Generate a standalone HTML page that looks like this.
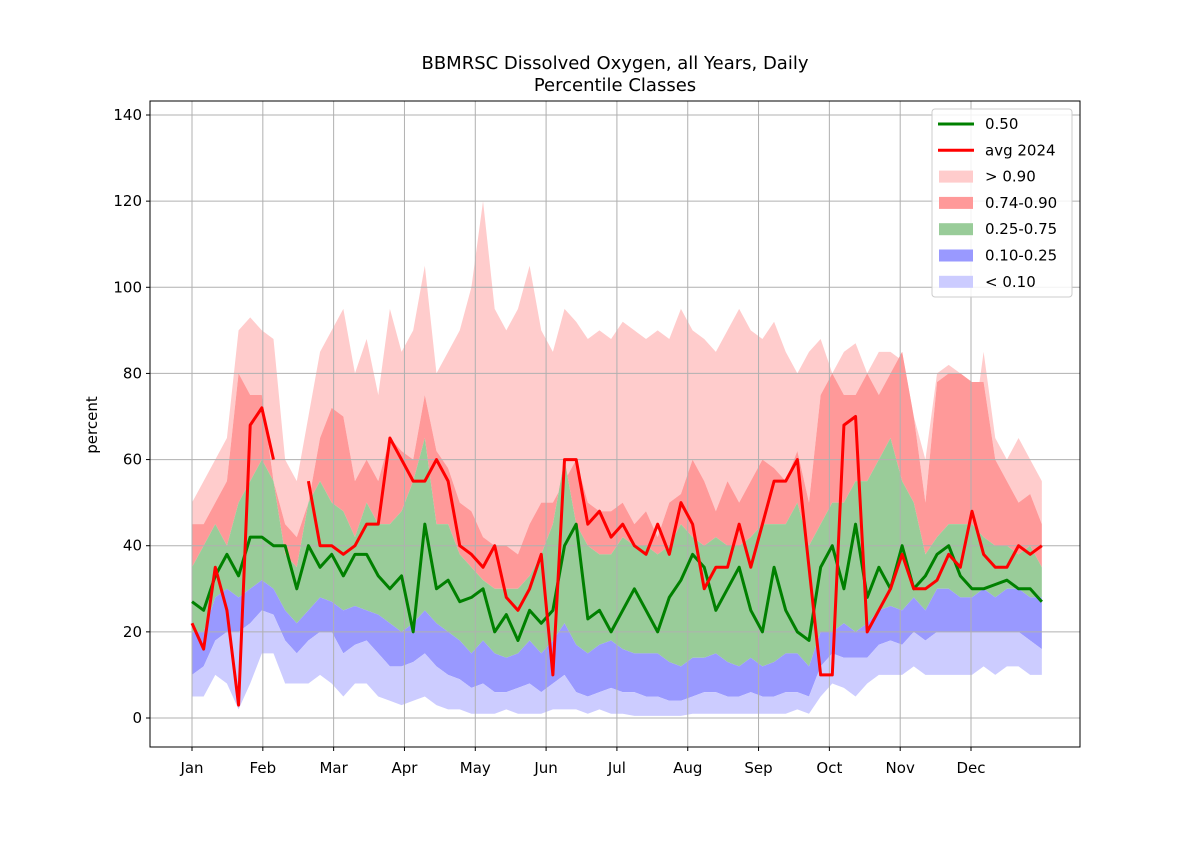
<!DOCTYPE html>
<html><head><meta charset="utf-8"><style>
body{margin:0;background:#fff}
svg text{font-family:"DejaVu Sans","Liberation Sans",sans-serif;fill:#000}
</style></head><body>
<svg id="chart" width="1200" height="840" xmlns="http://www.w3.org/2000/svg">
<rect width="1200" height="840" fill="#fff"/>
<g id="plot"></g>
<text x="615" y="69" text-anchor="middle" font-size="18">BBMRSC Dissolved Oxygen, all Years, Daily</text>
<text x="615" y="91" text-anchor="middle" font-size="18">Percentile Classes</text>
<text transform="translate(97,425) rotate(-90)" text-anchor="middle" font-size="15">percent</text>
</svg>
<script>
const days = [];
for (let d = 1; d <= 366; d += 5) days.push(d);
const monthLabels = ["Jan","Feb","Mar","Apr","May","Jun","Jul","Aug","Sep","Oct","Nov","Dec"];
const monthDays = [1,31.42,61.83,92.25,122.67,153.08,183.5,213.92,244.33,274.75,305.17,335.58];
const yTicks = [0,20,40,60,80,100,120,140];
const pMax = [50,55,60,65,90,93,90,88,60,55,70,85,90,95,80,88,75,95,85,90,105,80,85,90,100,120,95,90,95,105,90,85,95,92,88,90,88,92,90,88,90,88,95,90,88,85,90,95,90,88,92,85,80,85,88,80,85,87,80,85,85,83,70,60,80,82,80,65,85,65,60,65,60,55];
const p90 = [45,45,50,55,80,75,75,55,45,42,50,65,72,70,55,60,55,65,62,60,75,62,58,50,48,42,40,40,38,45,50,50,55,60,50,48,48,50,45,48,42,50,52,60,55,48,55,50,55,60,58,55,62,50,75,80,75,75,80,75,80,85,70,50,78,80,80,78,78,60,55,50,52,45];
const p75 = [35,40,45,40,50,55,60,55,38,35,50,55,50,48,42,50,45,45,48,55,65,45,45,38,35,32,30,30,30,33,38,45,60,45,40,38,38,42,40,40,38,40,45,42,40,42,40,40,42,45,45,45,50,40,45,50,50,55,55,60,65,55,50,38,42,45,45,45,42,40,40,38,40,35];
const p25 = [20,20,28,30,28,30,32,30,25,22,25,28,27,25,26,25,24,22,20,22,25,22,20,18,15,18,15,14,15,18,15,18,22,17,15,17,18,16,15,15,15,13,12,14,14,15,13,12,14,12,13,15,15,12,20,20,22,20,22,25,26,25,28,25,30,30,28,28,30,28,30,30,28,28];
const p10 = [10,12,18,20,20,22,25,24,18,15,18,20,20,15,17,18,15,12,12,13,15,12,10,9,7,8,6,6,7,8,6,8,10,6,5,6,7,6,6,5,5,4,4,5,6,6,5,5,6,5,5,6,6,5,12,15,14,14,14,17,18,17,20,18,20,20,20,20,20,20,20,20,18,16];
const pMin = [5,5,10,8,2,8,15,15,8,8,8,10,8,5,8,8,5,4,3,4,5,3,2,2,1,1,1,2,1,1,1,2,2,2,1,2,1,1,0.5,0.5,0.5,0.5,0.5,1,1,1,1,1,1,1,1,1,2,1,5,8,7,5,8,10,10,10,12,10,10,10,10,10,12,10,12,12,10,10];
const median = [27,25,33,38,33,42,42,40,40,30,40,35,38,33,38,38,33,30,33,20,45,30,32,27,28,30,20,24,18,25,22,25,40,45,23,25,20,25,30,25,20,28,32,38,35,25,30,35,25,20,35,25,20,18,35,40,30,45,28,35,30,40,30,33,38,40,33,30,30,31,32,30,30,27];
const avg2024 = [22,16,35,25,3,68,72,60,null,null,55,40,40,38,40,45,45,65,60,55,55,60,55,40,38,35,40,28,25,30,38,10,60,60,45,48,42,45,40,38,45,38,50,45,30,35,35,45,35,45,55,55,60,35,10,10,68,70,20,25,30,38,30,30,32,38,35,48,38,35,35,40,38,40];

const L=150,R=1080,T=101,B=747;
const xs = d => 192 + (d-1)*(971-192)/334.58;
const ys = v => 718 - v*(718-115)/140;
const NS="http://www.w3.org/2000/svg";
const g=document.getElementById('plot');
function mk(tag,attrs,parent){const e=document.createElementNS(NS,tag);for(const k in attrs)e.setAttribute(k,attrs[k]);(parent||g).appendChild(e);return e;}
function band(lo,hi,color,name){
  let pts=days.map((d,i)=>xs(d)+','+ys(hi[i]));
  for(let i=days.length-1;i>=0;i--)pts.push(xs(days[i])+','+ys(lo[i]));
  const p=mk('polygon',{points:pts.join(' '),fill:color});
  
  
}
band(p90,pMax,'#ffcccc','band-above-90');
band(p75,p90,'#ff9999','band-74-90');
band(p25,p75,'#99cc99','band-25-75');
band(p10,p25,'#9999ff','band-10-25');
band(pMin,p10,'#ccccff','band-below-10');
yTicks.forEach(v=>{
  const l=mk('line',{x1:L,x2:R,y1:ys(v),y2:ys(v),stroke:'#b0b0b0','stroke-width':1});
  
  
  mk('line',{x1:L-4,x2:L,y1:ys(v),y2:ys(v),stroke:'#000'});
  const t=mk('text',{x:L-8,y:ys(v)+5,'text-anchor':'end','font-size':15});
  t.textContent=v;
  
  
});
monthDays.forEach((d,i)=>{
  const l=mk('line',{x1:xs(d),x2:xs(d),y1:T,y2:B,stroke:'#b0b0b0','stroke-width':1});
  
  
  mk('line',{x1:xs(d),x2:xs(d),y1:B,y2:B+4,stroke:'#000'});
  const t=mk('text',{x:xs(d),y:773,'text-anchor':'middle','font-size':15});
  t.textContent=monthLabels[i];
  
  
});
function line(arr,color,name){
  let dstr='',pen=false;
  arr.forEach((v,i)=>{if(v===null){pen=false;return;}dstr+=(pen?'L':'M')+xs(days[i])+' '+ys(v)+' ';pen=true;});
  const p=mk('path',{d:dstr,fill:'none',stroke:color,'stroke-width':3,'stroke-linejoin':'round'});
  
  
}
line(median,'#008000','median-line');
line(avg2024,'#ff0000','avg-2024-line');
const frame=mk('rect',{x:L,y:T,width:R-L,height:B-T,fill:'none',stroke:'#000','stroke-width':1});


const lg=mk('g',{});


mk('rect',{x:932,y:109,width:140,height:188,rx:3,fill:'#fff','fill-opacity':0.85,stroke:'#ccc'},lg);
const legItems=[["0.50","line","#008000"],["avg 2024","line","#ff0000"],["> 0.90","patch","#ffcccc"],["0.74-0.90","patch","#ff9999"],["0.25-0.75","patch","#99cc99"],["0.10-0.25","patch","#9999ff"],["< 0.10","patch","#ccccff"]];
legItems.forEach((it,i)=>{
  const y=124+i*26.3;
  const e=mk('g',{},lg);
  
  
  if(it[1]==='line')mk('line',{x1:938,x2:974,y1:y,y2:y,stroke:it[2],'stroke-width':3},e);
  else mk('rect',{x:939,y:y-6,width:34,height:12,fill:it[2]},e);
  const t=mk('text',{x:985,y:y+5,'font-size':15},e);
  t.textContent=it[0];
});
</script>
</body></html>
